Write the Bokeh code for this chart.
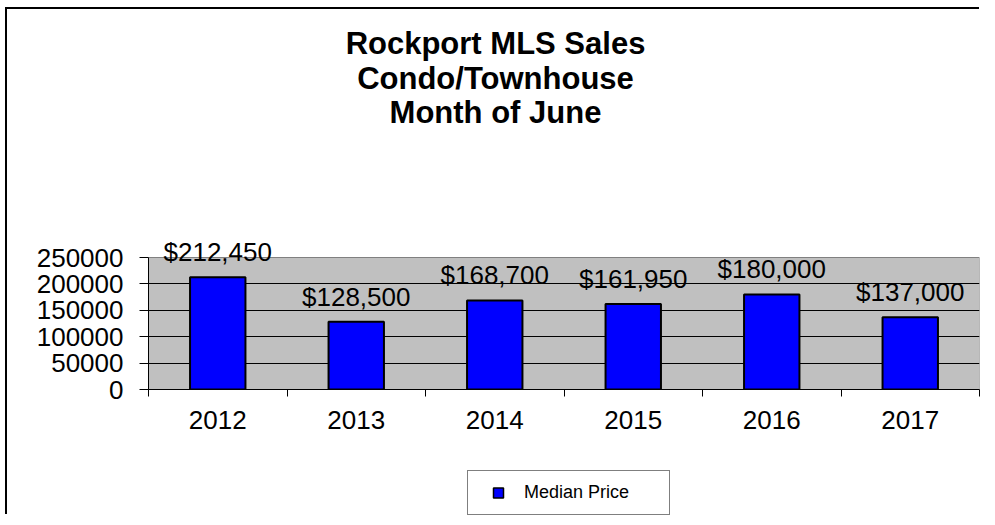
from bokeh.plotting import figure
from bokeh.layouts import column
from bokeh.models import (ColumnDataSource, Range1d, FixedTicker, BasicTickFormatter,
                          LabelSet, Label, Legend, LegendItem)
from bokeh.core.properties import value
from bokeh.embed import file_html
from bokeh.resources import INLINE

# ---- data ----
years = ["2012", "2013", "2014", "2015", "2016", "2017"]
median_price = [212450, 128500, 168700, 161950, 180000, 137000]
y_ticks = [0, 50000, 100000, 150000, 200000, 250000]
title_lines = ["Rockport MLS Sales", "Condo/Townhouse", "Month of June"]
series_name = "Median Price"

FONT = "Liberation Sans"
BAR_FILL = "#0000FF"

# ---- layout geometry (pixels) ----
FRAME_PX = 373      # drawing frame height (includes the title region)
AREA_PX = 132       # height of the grey plot area (0 .. top tick)
y_end = y_ticks[-1] * FRAME_PX / AREA_PX

xpos = [i + 0.5 for i in range(len(years))]
price_labels = ["${:,}".format(v) for v in median_price]
source = ColumnDataSource(dict(x=xpos, top=median_price, label=price_labels))

p = figure(width=974, height=451, output_backend="svg", toolbar_location=None,
           x_range=Range1d(0, len(years)), y_range=Range1d(0, y_end),
           min_border_left=141, min_border_right=2, min_border_top=7,
           min_border_bottom=71)

p.background_fill_color = "white"
p.border_fill_color = "white"
p.outline_line_color = None

# grey plot area
p.quad(left=0, right=len(years), bottom=0, top=y_ticks[-1],
       fill_color="#C0C0C0", line_color="#808080", line_width=1, level="image")

# grid
p.xgrid.visible = False
p.ygrid.grid_line_color = "black"
p.ygrid.grid_line_width = 1
p.ygrid.ticker = FixedTicker(ticks=y_ticks[:-1])

# y axis
p.yaxis.ticker = FixedTicker(ticks=y_ticks)
p.yaxis.bounds = (0, y_ticks[-1])
p.yaxis.formatter = BasicTickFormatter(use_scientific=False)
p.yaxis.major_label_text_font = FONT
p.yaxis.major_label_text_font_size = "26px"
p.yaxis.major_label_text_color = "black"
p.yaxis.major_tick_out = 9
p.yaxis.major_tick_in = 0
p.yaxis.minor_tick_line_color = None
p.yaxis.axis_line_color = "black"
p.yaxis.major_tick_line_color = "black"
p.yaxis.major_label_standoff = 16

# x axis: labels at centers, ticks at category boundaries
p.xaxis.ticker = FixedTicker(ticks=xpos, minor_ticks=list(range(len(years) + 1)))
p.xaxis.major_label_overrides = {x: y for x, y in zip(xpos, years)}
p.xaxis.major_label_text_font = FONT
p.xaxis.major_label_text_font_size = "26px"
p.xaxis.major_label_text_color = "black"
p.xaxis.major_tick_line_color = None
p.xaxis.major_tick_out = 6
p.xaxis.minor_tick_line_color = "black"
p.xaxis.minor_tick_out = 7
p.xaxis.minor_tick_in = 0
p.xaxis.axis_line_color = "black"
p.xaxis.major_label_standoff = 14

# bars
r = p.vbar(x="x", top="top", width=0.4, bottom=0, source=source,
           fill_color=BAR_FILL, line_color="black", line_width=2)

# value labels
labels = LabelSet(x="x", y="top", text="label", source=source,
                  text_align="center", text_baseline="alphabetic", y_offset=16,
                  text_font=value(FONT), text_font_size="26px", text_color="black")
p.add_layout(labels)

# title (three lines)
for i, line in enumerate(title_lines):
    p.add_layout(Label(x=347, y=346 - 34.5 * i, x_units="screen", y_units="screen",
                       text=line, text_align="center", text_baseline="alphabetic",
                       text_font=FONT, text_font_size="31px", text_font_style="bold",
                       text_color="black"))

# legend strip under the chart; its key renderer (zero-size markers) sits
# underneath the legend box, so only the legend swatch is visible
lg = figure(width=974, height=56, output_backend="svg", toolbar_location=None,
            x_range=Range1d(-12.75, 18.41), y_range=Range1d(-1e6, 1e6),
            x_axis_location=None, y_axis_location=None,
            min_border_left=0, min_border_right=0, min_border_top=0, min_border_bottom=0)
lg.grid.visible = False
lg.outline_line_color = None
lg.background_fill_color = "white"
lg.border_fill_color = "white"
key = lg.scatter(x="x", y="top", source=source, marker="square", size=0,
                 fill_color=BAR_FILL, line_color="black", line_width=1.5)
legend = Legend(items=[LegendItem(label=series_name, renderers=[key])],
                location=(319, 1), orientation="vertical",
                border_line_color="black", border_line_width=1,
                background_fill_color="white", background_fill_alpha=1,
                label_text_font=FONT, label_text_font_size="18px",
                label_text_color="black",
                glyph_width=42, glyph_height=25, label_standoff=5,
                padding=9, label_height=21, label_width=136, spacing=0, margin=0)
lg.add_layout(legend)

layout = column(p, lg, spacing=0,
                styles={"margin-left": "7px", "margin-top": "9px",
                        "box-shadow": "-2px -2px 0 0 black"})
open("out.html", "w").write(file_html(layout, INLINE))
